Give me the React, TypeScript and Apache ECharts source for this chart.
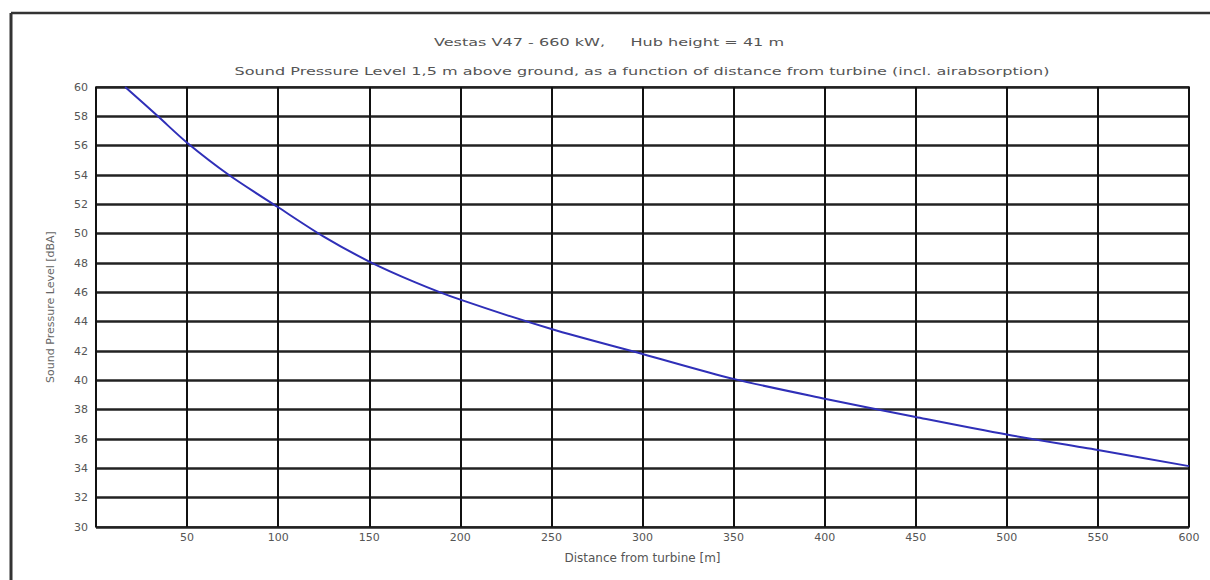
import React, { useEffect, useRef } from "react";
import * as echarts from "echarts";

const distances = [16, 34, 50, 73, 100, 125, 150, 175, 200, 250, 300, 350, 400, 450, 500, 550, 600];
const splValues = [60.0, 58.0, 56.2, 54.0, 51.8, 49.8, 48.1, 46.7, 45.5, 43.5, 41.8, 40.1, 38.75, 37.5, 36.3, 35.25, 34.15];
const titleMain = "Vestas V47 - 660 kW,     Hub height = 41 m";
const titleSub = "Sound Pressure Level 1,5 m above ground, as a function of distance from turbine (incl. airabsorption)";
const xName = "Distance from turbine [m]";
const yName = "Sound Pressure Level [dBA]";

export default function App() {
  const ref = useRef<HTMLDivElement>(null);
  useEffect(() => {
    if (!ref.current) return;
    const chart = echarts.init(ref.current, null, { renderer: "svg" });
    const points = distances.map((d, i) => [d, splValues[i]]);
    chart.setOption({
      animation: false,
      backgroundColor: "#ffffff",
      grid: { left: 96, top: 87, right: 21, bottom: 53, show: true, borderColor: "#111", borderWidth: 1.5, backgroundColor: "transparent" },
      xAxis: {
        type: "value",
        min: 0,
        max: 600,
        interval: 50,
        name: xName,
        nameLocation: "middle",
        nameGap: 25,
        nameTextStyle: { fontFamily: "DejaVu Sans", fontSize: 12, color: "#555" },
        axisLine: { show: false },
        axisTick: { show: false },
        axisLabel: {
          fontFamily: "DejaVu Sans",
          fontSize: 11,
          color: "#555",
          margin: 5,
          formatter: (v: number) => (v === 0 ? "" : String(v)),
        },
        splitLine: { show: true, lineStyle: { color: "#111", width: 2 } },
      },
      yAxis: {
        type: "value",
        min: 30,
        max: 60,
        interval: 2,
        name: yName,
        nameLocation: "middle",
        nameGap: 40,
        nameRotate: 90,
        nameTextStyle: { fontFamily: "DejaVu Sans", fontSize: 11, color: "#666" },
        axisLine: { show: false },
        axisTick: { show: false },
        axisLabel: { fontFamily: "DejaVu Sans", fontSize: 11, color: "#555", margin: 8 },
        splitLine: { show: true, lineStyle: { color: "#222", width: 2.5 } },
      },
      series: [
        {
          type: "line",
          data: points,
          smooth: 0.3,
          symbol: "none",
          clip: true,
          lineStyle: { color: "#2f2fb8", width: 2 },
        },
      ],
      graphic: [
        { type: "line", shape: { x1: 11, y1: 13, x2: 1210, y2: 13 }, style: { stroke: "#333", lineWidth: 2.5 } },
        { type: "line", shape: { x1: 11, y1: 13, x2: 11, y2: 580 }, style: { stroke: "#333", lineWidth: 3 } },
        {
          type: "text",
          x: 609,
          y: 42,
          scaleX: 1.53,
          style: { text: titleMain, fontFamily: "DejaVu Sans", fontSize: 10.5, fill: "#555", align: "center", verticalAlign: "middle" },
        },
        {
          type: "text",
          x: 642,
          y: 71,
          scaleX: 1.53,
          style: { text: titleSub, fontFamily: "DejaVu Sans", fontSize: 10.5, fill: "#555", align: "center", verticalAlign: "middle" },
        },
      ],
    });
    return () => chart.dispose();
  }, []);
  return <div ref={ref} style={{ position: "fixed", left: 0, top: 0, width: 1210, height: 580 }} />;
}
